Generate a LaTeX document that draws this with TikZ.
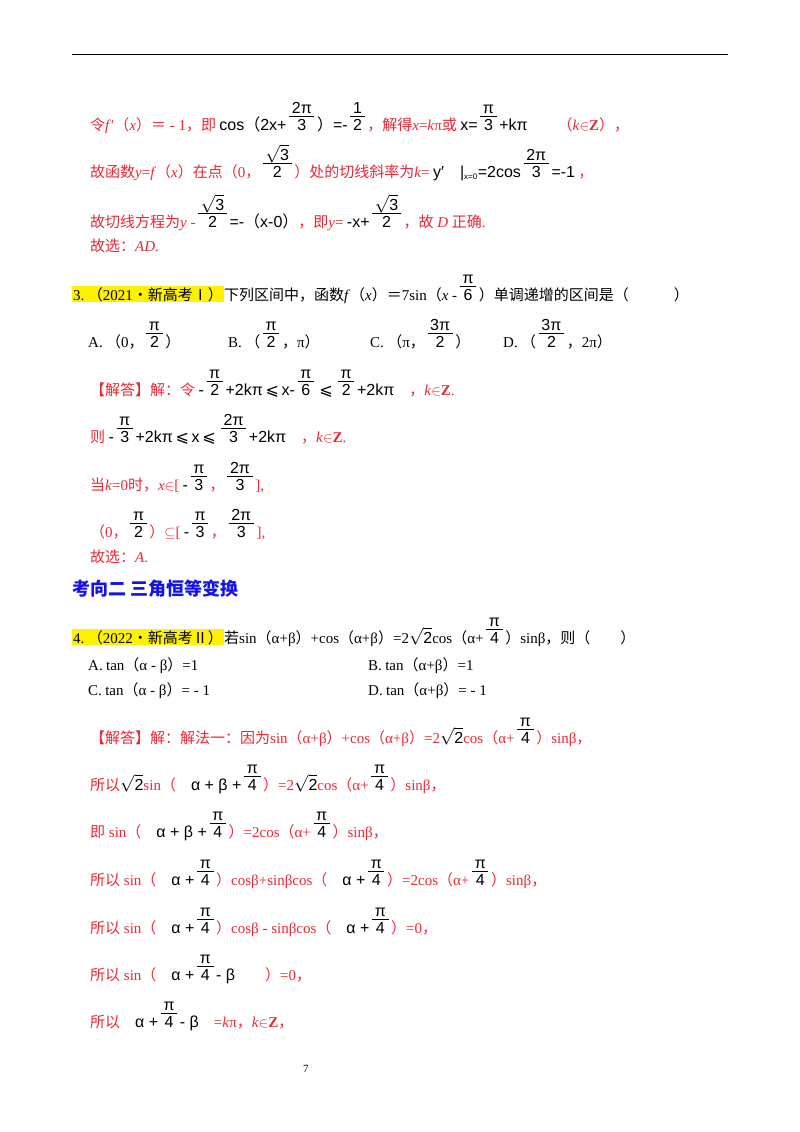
\documentclass[tikz,border=0pt]{standalone}
\usepackage{fontspec}
\usepackage{xcolor}
\setmainfont{Noto Sans CJK SC}
\newfontfamily\tm{Liberation Serif}
\newfontfamily\mf{Liberation Sans}
\newfontfamily\djv{DejaVu Sans}
\definecolor{rd}{RGB}{236,40,52}
\definecolor{bl}{RGB}{20,20,230}
\newcommand\T[1]{{\tm #1}}
\newcommand\B[1]{{\color{black}\mf\fontsize{16}{18}\selectfont #1}}
\newcommand\LP{{\normalfont（}}
\newcommand\RP{{\normalfont）}}
\newcommand\fr[2]{{\color{black}\mf\fontsize{16}{18}\selectfont\,\begin{tabular}[b]{@{}c@{}}\,#1\,\\[-3pt]\hline\rule{0pt}{14pt}#2\end{tabular}\,}}
\newcommand\sq[1]{{\color{black}\fontsize{16}{18}\selectfont$\sqrt{\mbox{\mf #1}}$}}
\newcommand\IN{$\in$}
\newcommand\LE{\,{\djv ⩽}\,}
\tikzset{ln/.style={anchor=base west,inner sep=0pt,font=\fontsize{15}{18}\selectfont},
 red/.style={ln,text=rd},
 blk/.style={ln,text=black},
 hl/.style={ln,fill=yellow,inner sep=1pt,text=black}}
\begin{document}
\begin{tikzpicture}[x=1pt,y=-1pt]
\useasboundingbox[fill=white] (0,0) rectangle (800,1132);
\draw[line width=1pt] (72,55) -- (728,55);
\node[red] (l1) at (90,130) {令\T{\textit{f}′}（\T{\textit{x}}）＝\T{ - 1}，即\ \B{cos\LP 2x+}\fr{2π}{3}\B{\RP =-}\fr{1}{2}，解得\T{\textit{x}=\textit{k}π}或\ \B{x=}\fr{π}{3}\B{+kπ}\qquad（\T{\textit{k}\IN\textbf{Z}}），};
\node[red] (l2) at (90,177) {故函数\T{\textit{y}=\textit{f}}（\T{\textit{x}}）在点（\T{0}，\fr{\sq{3}}{2}）处的切线斜率为\T{\textit{k}=}\ \B{y′\quad|$_{\mbox{\mf\footnotesize x=0}}$=2cos}\fr{2π}{3}\B{=-1}\ ，};
\node[red] (l3) at (90,227) {故切线方程为\T{\textit{y} -}\fr{\sq{3}}{2}\B{=-\LP x-0\RP}，即\T{\textit{y}=}\ \B{-x+}\fr{\sq{3}}{2}，故\T{ \textit{D} }正确\T{.}};
\node[red] (l4) at (90,251) {故选：\T{\textit{AD}.}};
\node[hl] (h3) at (72,300) {\T{3.}\ （\T{2021}•新高考Ⅰ）};
\node[blk] (q3) at (h3.base east) {下列区间中，函数\T{\textit{f}}（\T{\textit{x}}）＝\T{7sin}（\T{\textit{x} -}\fr{π}{6}）单调递增的区间是（\qquad\quad）};
\node[blk] (a3) at (88,347) {\T{A.}\ （\T{0}，\fr{π}{2}）};
\node[blk] (b3) at (228,347) {\T{B.}\ （\fr{π}{2}，\T{π}）};
\node[blk] (c3) at (370,347) {\T{C.}\ （\T{π}，\fr{3π}{2}）};
\node[blk] (d3) at (503,347) {\T{D.}\ （\fr{3π}{2}，\T{2π}）};
\node[red] (s1) at (90,395) {【解答】解：令\ \B{-}\fr{π}{2}\B{+2kπ\LE x-}\fr{π}{6}\B{\LE}\fr{π}{2}\B{+2kπ}\quad，\T{\textit{k}\IN\textbf{Z}.}};
\node[red] (s2) at (90,442) {则\ \B{-}\fr{π}{3}\B{+2kπ\LE x\LE}\fr{2π}{3}\B{+2kπ}\quad，\T{\textit{k}\IN\textbf{Z}.}};
\node[red] (s3) at (90,490) {当\T{\textit{k}=0}时，\T{\textit{x}\IN[}\ \B{-}\fr{π}{3}，\fr{2π}{3}\T{],}};
\node[red] (s4) at (90,537) {（\T{0}，\fr{π}{2}）\T{$\subseteq$[}\ \B{-}\fr{π}{3}，\fr{2π}{3}\T{],}};
\node[red] (s5) at (90,562) {故选：\T{\textit{A}.}};
\node[ln,text=bl,font=\fontsize{18}{20}\selectfont\bfseries] (hd) at (72,595) {考向二\ 三角恒等变换};
\node[hl] (h4) at (72,643) {\T{4.}\ （\T{2022}•新高考Ⅱ）};
\node[blk] (q4) at (h4.base east) {若\T{sin}（\T{α+β}）\T{+cos}（\T{α+β}）\T{=2}\sq{2}\T{cos}（\T{α+}\fr{π}{4}）\T{sinβ}，则（\qquad）};
\node[blk] (a4) at (88,670) {\T{A.}\ \T{tan}（\T{α - β}）\T{=1}};
\node[blk] (b4) at (368,670) {\T{B.}\ \T{tan}（\T{α+β}）\T{=1}};
\node[blk] (c4) at (88,695) {\T{C.}\ \T{tan}（\T{α - β}）\T{= - 1}};
\node[blk] (d4) at (368,695) {\T{D.}\ \T{tan}（\T{α+β}）\T{= - 1}};
\node[red] (t1) at (90,743) {【解答】解：解法一：因为\T{sin}（\T{α+β}）\T{+cos}（\T{α+β}）\T{=2}\sq{2}\T{cos}（\T{α+}\fr{π}{4}）\T{sinβ}，};
\node[red] (t2) at (90,790) {所以\sq{2}\T{sin}（\quad\B{α + β +}\fr{π}{4}）\T{=2}\sq{2}\T{cos}（\T{α+}\fr{π}{4}）\T{sinβ}，};
\node[red] (t3) at (90,837) {即\T{ sin}（\quad\B{α + β +}\fr{π}{4}）\T{=2cos}（\T{α+}\fr{π}{4}）\T{sinβ}，};
\node[red] (t4) at (90,885) {所以\T{ sin}（\quad\B{α +}\fr{π}{4}）\T{cosβ+sinβcos}（\quad\B{α +}\fr{π}{4}）\T{=2cos}（\T{α+}\fr{π}{4}）\T{sinβ}，};
\node[red] (t5) at (90,933) {所以\T{ sin}（\quad\B{α +}\fr{π}{4}）\T{cosβ - sinβcos}（\quad\B{α +}\fr{π}{4}）\T{=0}，};
\node[red] (t6) at (90,980) {所以\T{ sin}（\quad\B{α +}\fr{π}{4}\B{- β}\qquad）\T{=0}，};
\node[red] (t7) at (90,1027) {所以\quad\B{α +}\fr{π}{4}\B{- β}\quad\T{=\textit{k}π}，\T{\textit{k}\IN\textbf{Z}}，};
\node[blk,font=\fontsize{11}{13}\selectfont] (pg) at (303,1072) {\T{7}};
\end{tikzpicture}
\end{document}
